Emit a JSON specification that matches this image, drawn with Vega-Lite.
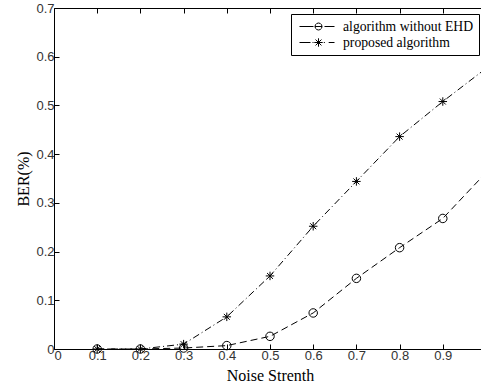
{
  "$schema": "https://vega.github.io/schema/vega-lite/v6.json",
  "autosize": {"type": "none"},
  "padding": {"left": 54, "top": 8, "right": 0, "bottom": 43},
  "width": 432,
  "height": 341,
  "background": "white",
  "config": {
    "view": {"stroke": null},
    "axis": {
      "grid": false,
      "domainColor": "black",
      "domainWidth": 1,
      "tickColor": "black",
      "tickWidth": 1,
      "tickSize": -5,
      "labelFont": "Liberation Sans",
      "labelFontSize": 13,
      "labelColor": "#333333",
      "titleFont": "Liberation Serif",
      "titleFontSize": 16,
      "titleFontWeight": "normal",
      "titleColor": "black"
    }
  },
  "data": {
    "values": [
      {"x": 0.1, "ber": 0.0, "series": "algorithm without EHD"},
      {"x": 0.2, "ber": 0.0, "series": "algorithm without EHD"},
      {"x": 0.3, "ber": 0.002, "series": "algorithm without EHD"},
      {"x": 0.4, "ber": 0.007, "series": "algorithm without EHD"},
      {"x": 0.5, "ber": 0.026, "series": "algorithm without EHD"},
      {"x": 0.6, "ber": 0.074, "series": "algorithm without EHD"},
      {"x": 0.7, "ber": 0.145, "series": "algorithm without EHD"},
      {"x": 0.8, "ber": 0.208, "series": "algorithm without EHD"},
      {"x": 0.9, "ber": 0.268, "series": "algorithm without EHD"},
      {"x": 1.0, "ber": 0.362, "series": "algorithm without EHD"},
      {"x": 0.1, "ber": 0.0, "series": "proposed algorithm"},
      {"x": 0.2, "ber": 0.0, "series": "proposed algorithm"},
      {"x": 0.3, "ber": 0.01, "series": "proposed algorithm"},
      {"x": 0.4, "ber": 0.066, "series": "proposed algorithm"},
      {"x": 0.5, "ber": 0.150, "series": "proposed algorithm"},
      {"x": 0.6, "ber": 0.252, "series": "proposed algorithm"},
      {"x": 0.7, "ber": 0.344, "series": "proposed algorithm"},
      {"x": 0.8, "ber": 0.436, "series": "proposed algorithm"},
      {"x": 0.9, "ber": 0.508, "series": "proposed algorithm"},
      {"x": 1.0, "ber": 0.576, "series": "proposed algorithm"}
    ]
  },
  "layer": [
    {
      "transform": [{"filter": "datum.series === 'algorithm without EHD'"}],
      "mark": {"type": "line", "color": "black", "strokeWidth": 1, "strokeDash": [7, 4]},
      "encoding": {
        "x": {
          "field": "x", "type": "quantitative",
          "scale": {"domain": [0, 1], "nice": false, "zero": false},
          "axis": {"orient": "bottom", "title": "Noise Strenth", "values": [0, 0.1, 0.2, 0.3, 0.4, 0.5, 0.6, 0.7, 0.8, 0.9], "format": ".1~f", "labelPadding": 5, "titlePadding": 5}
        },
        "y": {
          "field": "ber", "type": "quantitative",
          "scale": {"domain": [0, 0.7], "nice": false},
          "axis": {"orient": "left", "title": "BER(%)", "values": [0, 0.1, 0.2, 0.3, 0.4, 0.5, 0.6, 0.7], "format": ".1~f", "labelPadding": 5, "titlePadding": 4}
        }
      }
    },
    {
      "transform": [{"filter": "datum.series === 'proposed algorithm'"}],
      "mark": {"type": "line", "color": "black", "strokeWidth": 1, "strokeDash": [7, 3, 1, 3]},
      "encoding": {
        "x": {"field": "x", "type": "quantitative", "axis": null},
        "y": {"field": "ber", "type": "quantitative", "axis": null}
      }
    },
    {
      "transform": [{"filter": "datum.series === 'algorithm without EHD'"}],
      "mark": {"type": "point", "filled": false, "color": "black", "strokeWidth": 1, "size": 72, "opacity": 1, "shape": "M1,0A1,1,0,1,1,-1,0A1,1,0,1,1,1,0Z"},
      "encoding": {
        "x": {"field": "x", "type": "quantitative", "axis": null},
        "y": {"field": "ber", "type": "quantitative", "axis": null}
      }
    },
    {
      "transform": [{"filter": "datum.series === 'proposed algorithm'"}],
      "mark": {"type": "point", "filled": false, "color": "black", "strokeWidth": 1, "size": 72, "opacity": 1, "shape": "M0,-1V1M-1,0H1M-0.7,-0.7L0.7,0.7M-0.7,0.7L0.7,-0.7"},
      "encoding": {
        "x": {"field": "x", "type": "quantitative", "axis": null},
        "y": {"field": "ber", "type": "quantitative", "axis": null}
      }
    },
    {
      "mark": {"type": "point", "filled": false, "color": "black", "strokeWidth": 1, "size": 72, "opacity": 0},
      "encoding": {
        "x": {
          "field": "x", "type": "quantitative",
          "scale": {"domain": [0, 1], "nice": false, "zero": false},
          "axis": {"orient": "top", "title": null, "labels": false, "values": [0, 0.1, 0.2, 0.3, 0.4, 0.5, 0.6, 0.7, 0.8, 0.9, 1.0]}
        },
        "y": {
          "field": "ber", "type": "quantitative",
          "scale": {"domain": [0, 0.7], "nice": false},
          "axis": {"orient": "right", "title": null, "labels": false, "values": [0, 0.1, 0.2, 0.3, 0.4, 0.5, 0.6, 0.7]}
        },
        "shape": {
          "field": "series", "type": "nominal",
          "scale": {
            "domain": ["algorithm without EHD", "proposed algorithm"],
            "range": [
              "M-0.571,0H1.429M3,0H4.429M1.643,0H2.643M2.643,0L2.576,0.25L2.393,0.433L2.143,0.5L1.893,0.433L1.71,0.25L1.643,0L1.71,-0.25L1.893,-0.433L2.143,-0.5L2.393,-0.433L2.576,-0.25Z",
              "M-0.571,0H1.0M1.29,0H1.43M2.143,-0.6V0.6M1.543,0H2.743M1.72,-0.42L2.566,0.42M1.72,0.42L2.566,-0.42M2.9,0H3.05M3.6,0H4.43"
            ]
          },
          "legend": {
            "title": null,
            "orient": "none",
            "legendX": 237,
            "legendY": 6,
            "direction": "vertical",
            "strokeColor": "black",
            "fillColor": "white",
            "padding": 5,
            "cornerRadius": 0,
            "labelFont": "Liberation Serif",
            "labelFontSize": 13.7,
            "labelColor": "black",
            "labelLimit": 0,
            "labelOffset": 32,
            "rowPadding": 1,
            "symbolSize": 196,
            "symbolOpacity": 1,
            "symbolStrokeColor": "black",
            "symbolStrokeWidth": 1,
            "symbolFillColor": "transparent"
          }
        }
      }
    }
  ]
}
